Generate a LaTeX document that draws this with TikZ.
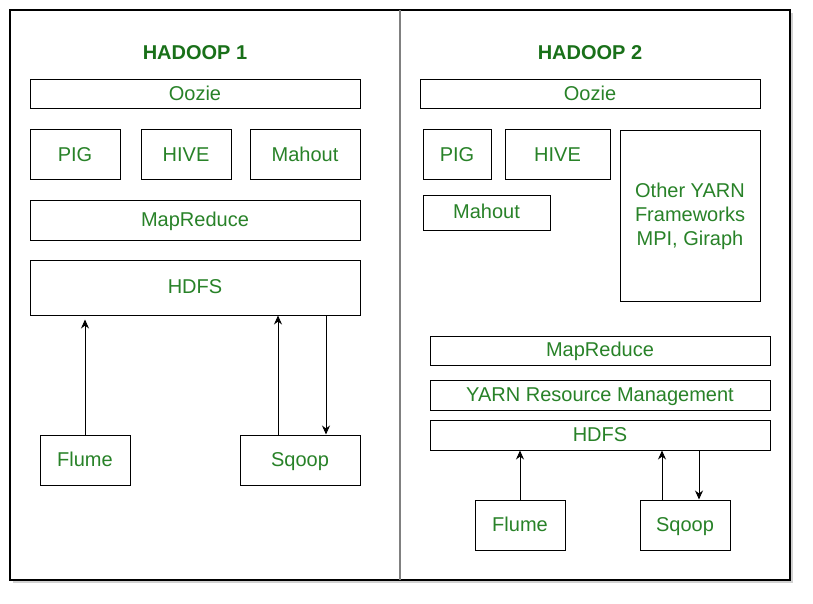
\documentclass[tikz,border=0pt]{standalone}
\usepackage{fontspec}
\setmainfont{Liberation Sans}
\usetikzlibrary{arrows.meta,positioning}
\definecolor{layergreen}{RGB}{40,130,40}
\definecolor{titlegreen}{RGB}{25,112,25}

\begin{document}
\begin{tikzpicture}[x=1pt, y=-1pt, node distance=20pt,
    layer node/.style={rectangle, draw, line width=1pt, text=layergreen, inner sep=0pt, align=center,
      text height=14pt, text depth=1.5pt, font=\fontsize{20}{24}\selectfont},
    title node/.style={text=titlegreen, font=\fontsize{20}{24}\selectfont\bfseries},
    flow/.style={-{Stealth[length=9pt,width=8pt]}, line width=0.9pt}]
            \useasboundingbox (0,0) rectangle (813,604);

            % frame and divider
            \fill[black!18] (13,13) rectangle (793,583);
            \draw[line width=1.5pt, fill=white] (10,10) rectangle (790,580);
            \draw[gray, line width=1.5pt] (400,10) -- (400,580);

              % hadoop 1
              \node[title node] (t1) at (195,53) {HADOOP 1};
              \node[layer node, minimum width=330pt, minimum height=29pt] (oozie1) at (195,94.5) {Oozie};
              \node[layer node, minimum width=90pt, minimum height=50pt] (pig1) at (75,155) {PIG};
              \node[layer node, minimum width=90pt, minimum height=50pt] (hive1) [right=of pig1] {HIVE};
              \node[layer node, minimum width=110pt, minimum height=50pt] (mahout1) at (305,155) {Mahout};
              \node[layer node, minimum width=330pt, minimum height=40pt] (mapreduce1) at (195,220) {MapReduce};
              \node[layer node, minimum width=330pt, minimum height=55pt] (hdfs1) at (195,287.5) {HDFS};
              \node[layer node, minimum width=90pt, minimum height=50pt] (flume1) at (85,460) {Flume};
              \node[layer node, minimum width=120pt, minimum height=50pt] (sqoop1) at (300,460) {Sqoop};

              % hadoop 2
              \node[title node] (t2) at (590,53) {HADOOP 2};
              \node[layer node, minimum width=340pt, minimum height=29pt] (oozie2) at (590,94.5) {Oozie};
              \node[layer node, minimum width=68pt, minimum height=50pt] (pig2) at (457,155) {PIG};
              \node[layer node, minimum width=105pt, minimum height=50pt] (hive2) at (557.5,155) {HIVE};
              \node[layer node, minimum width=127pt, minimum height=35pt] (mahout2) at (486.5,212.5) {Mahout};
              \node[layer node, minimum width=140pt, minimum height=170pt, text height=, text depth=] (other2) at (690,216) {Other YARN\\Frameworks\\MPI, Giraph};
              \node[layer node, minimum width=340pt, minimum height=29pt] (mapreduce2) at (600,350.5) {MapReduce};
              \node[layer node, minimum width=340pt, minimum height=30pt] (yarn2) at (600,395) {YARN Resource Management};
              \node[layer node, minimum width=340pt, minimum height=30pt] (hdfs2) at (600,435) {HDFS};
              \node[layer node, minimum width=90pt, minimum height=50pt] (flume2) at (520,525) {Flume};
              \node[layer node, minimum width=90pt, minimum height=50pt] (sqoop2) at (685,525) {Sqoop};

              % data flow
              \draw[flow, shorten >=4pt] (flume1.north) -- (flume1.north |- hdfs1.south);
              \draw[flow] ([xshift=-22pt]sqoop1.north) -- ([xshift=-22pt]sqoop1.north |- hdfs1.south);
              \draw[flow] ([xshift=26pt]sqoop1.north |- hdfs1.south) -- ([xshift=26pt]sqoop1.north);
              \draw[flow] (flume2.north) -- (flume2.north |- hdfs2.south);
              \draw[flow] ([xshift=-23pt]sqoop2.north) -- ([xshift=-23pt]sqoop2.north |- hdfs2.south);
              \draw[flow] ([xshift=14pt]sqoop2.north |- hdfs2.south) -- ([xshift=14pt]sqoop2.north);

            \end{tikzpicture}
\end{document}
